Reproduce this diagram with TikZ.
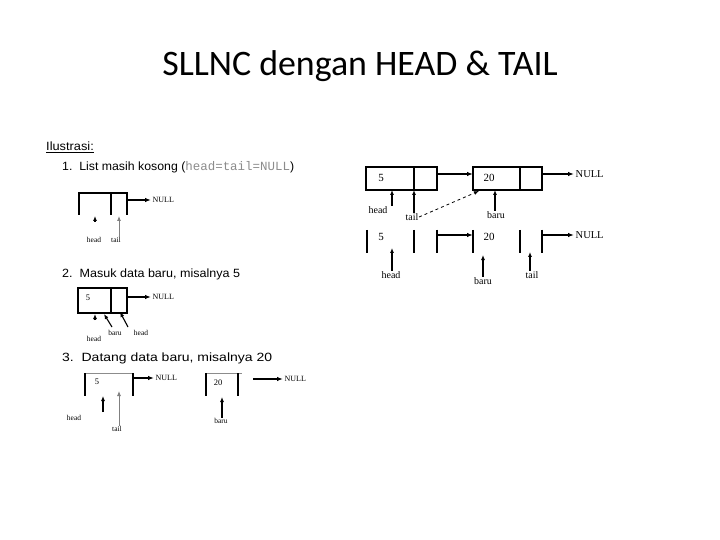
\documentclass[tikz,border=0pt]{standalone}
\usepackage{fontspec}
\setmainfont{Liberation Serif}
\newfontfamily\ttlfont{Carlito}
\newfontfamily\arfont{Liberation Sans}
\newfontfamily\mofont{Liberation Mono}
\usetikzlibrary{arrows.meta}
\begin{document}
\begin{tikzpicture}[x=1bp,y=1bp,
  ln/.style={draw=black,line width=1.1bp},
  lnf/.style={draw=black!45,line width=0.8bp},
  arr/.style={draw=black,line width=1.1bp,-{Latex[length=5bp,width=4bp]}},
  harr/.style={draw=black,line width=1.2bp,line join=miter,-{Latex[length=6bp,width=4.5bp]}},
  arrf/.style={draw=black!50,line width=0.8bp,-{Latex[length=5bp,width=4bp]}},
  item/.style={anchor=west,inner sep=0pt,font=\arfont\fontsize{12}{14}\selectfont},
  lblS/.style={inner sep=0.5bp,font=\fontsize{7.5}{8}\selectfont},
  lblB/.style={inner sep=0.5bp,font=\fontsize{10}{11}\selectfont},
  nulS/.style={anchor=west,inner sep=1.5bp,font=\fontsize{8}{9}\selectfont},
  nulB/.style={anchor=west,inner sep=1.5bp,font=\fontsize{10.5}{12}\selectfont},
  valS/.style={inner sep=0pt,font=\fontsize{8.5}{9}\selectfont},
  valB/.style={inner sep=0pt,font=\fontsize{11}{12}\selectfont}]
\useasboundingbox (0,-540) rectangle (720,0);
\fill[white] (0,-540) rectangle (720,0);

% title
\node[inner sep=0pt] (title) at (360,-66) {\ttlfont\fontsize{36}{40}\selectfont SLLNC dengan HEAD \& TAIL};

% headings
\node[item] (ilus) at (46,-147) {\scalebox{1.07}[1]{\underline{Ilustrasi:}}};
\node[item] (it1) at (62,-167) {\scalebox{1.03}[1]{1.\ \ List masih kosong (}\textcolor{black!45}{\mofont\fontsize{12.5}{13}\selectfont head=tail=NULL}\scalebox{1.03}[1]{)}};
\node[item] (it2) at (62,-274) {\scalebox{1.05}[1]{2.\ \ Masuk data baru, misalnya 5}};
\node[item] (it3) at (62,-358) {\scalebox{1.17}[1]{3.\ \ Datang data baru, misalnya 20}};

% ---------- coordinates of box corners / arrow ends ----------
\coordinate (s1top) at (127,-193);
\coordinate (s1r) at (127,-200);
\coordinate (s2top) at (127,-288);
\coordinate (s2r) at (127,-297);
\coordinate (s3top1) at (133,-373);
\coordinate (s3r1) at (133,-378);
\coordinate (s3r2) at (253,-379);
\coordinate (r1atop) at (437,-167);
\coordinate (r1a) at (437,-174);
\coordinate (r1b) at (473,-174);
\coordinate (r1ctop) at (542,-167);
\coordinate (r1c) at (542,-174);
\coordinate (r2atop) at (437,-230);
\coordinate (r2a) at (437,-235);
\coordinate (r2b) at (473,-235);
\coordinate (r2ctop) at (542,-230);
\coordinate (r2c) at (542,-235);

% ---------- section 1 ----------
\draw[ln] (79,-215) -- (79,-193) -- (127,-193) -- (127,-215);
\draw[ln] (111,-193) -- (111,-215);
\node[nulS] (s1null) at (151,-200) {NULL};
\coordinate (s1hA) at (95,-222);
\coordinate (s1hB) at (95,-216);
\draw[arr] (s1hA) -- (s1hB);
\node[lblS] (s1head) at (94,-240) {head};
\node[lblS] (s1tail) at (116,-240) {tail};
\coordinate (s1tB) at (119,-216);
\draw[arrf] (s1tail.north -| s1tB) -- (s1tB);

% ---------- section 2 ----------
\draw[ln] (78,-288) rectangle (127,-313);
\draw[ln] (111,-288) -- (111,-313);
\node[valS] (s2v) at (88,-298) {5};
\node[nulS] (s2null) at (151,-297) {NULL};
\coordinate (s2hA) at (95,-320);
\coordinate (s2hB) at (95,-314);
\draw[arr] (s2hA) -- (s2hB);
\node[lblS] (s2head) at (94,-339) {head};
\node[lblS] (s2baru) at (115,-333) {baru};
\node[lblS] (s2head2) at (141,-333) {head};
\coordinate (s2bS) at (112,-327);
\coordinate (s2bT) at (104,-314);
\coordinate (s2hS) at (128,-327);
\coordinate (s2hT) at (120,-312);
\draw[arr] (s2bS) -- (s2bT);
\draw[arr] (s2hS) -- (s2hT);

% ---------- section 3 ----------
\draw[lnf] (85,-373) -- (133,-373);
\draw[ln] (85,-373) -- (85,-396);
\draw[ln] (133,-373) -- (133,-396);
\node[valS] (s3v5) at (97,-382) {5};
\node[nulS] (s3null1) at (154,-378) {NULL};
\draw[lnf] (206,-373) -- (242,-373);
\draw[ln] (206,-373) -- (206,-396);
\draw[ln] (238,-373) -- (238,-396);
\node[valS] (s3v20) at (218,-383) {20};
\node[nulS] (s3null2) at (283,-379) {NULL};
\node[lblS] (s3head) at (74,-418) {head};
\node[lblS] (s3tail) at (117,-429) {tail};
\node[lblS] (s3baru) at (221,-421) {baru};
\coordinate (s3hS) at (103,-412);
\coordinate (s3hT) at (103,-396);
\draw[arr] (s3hS) -- (s3hT);
\coordinate (s3tT) at (119,-391);
\draw[arrf] (s3tail.north -| s3tT) -- (s3tT);
\coordinate (s3bT) at (222,-397);
\draw[arr] (s3baru.north -| s3bT) -- (s3bT);

% ---------- right top row ----------
\draw[ln] (366,-167) rectangle (437,-190);
\draw[ln] (414,-167) -- (414,-190);
\draw[ln] (473,-167) rectangle (542,-190);
\draw[ln] (520,-167) -- (520,-190);
\node[valB] (r1v5) at (381,-178) {5};
\node[valB] (r1v20) at (489,-178) {20};
\node[nulB] (r1null) at (574,-174) {NULL};
\node[lblB] (r1head) at (378,-210) {head};
\node[lblB] (r1tail) at (412,-217) {tail};
\node[lblB] (r1baru) at (496,-215) {baru};
\coordinate (r1hT) at (392,-190);
\draw[arr] (r1head.north -| r1hT) -- (r1hT);
\coordinate (r1tT) at (414,-190);
\draw[arr] (r1tail.north -| r1tT) -- (r1tT);
\coordinate (r1bT) at (495,-190);
\draw[arr] (r1baru.north -| r1bT) -- (r1bT);
\coordinate (r1dT) at (479,-191);
\draw[arr,dashed,line width=0.8bp] (r1tail.east) -- (r1dT);

% ---------- right bottom row ----------
\foreach \xx in {367,414,437,473,520,542} {\draw[ln] (\xx,-230) -- (\xx,-253);}
\node[valB] (r2v5) at (381,-237) {5};
\node[valB] (r2v20) at (489,-237) {20};
\node[nulB] (r2null) at (574,-235) {NULL};
\node[lblB] (r2head) at (391,-275) {head};
\node[lblB] (r2baru) at (483,-281) {baru};
\node[lblB] (r2tail) at (532,-275) {tail};
\coordinate (r2hT) at (392,-248);
\draw[arr] (r2head.north -| r2hT) -- (r2hT);
\coordinate (r2bT) at (483,-255);
\draw[arr] (r2baru.north -| r2bT) -- (r2bT);
\coordinate (r2tT) at (530,-252);
\draw[arr] (r2tail.north -| r2tT) -- (r2tT);

% ---------- horizontal connectors, drawn last, each starting on its box edge ----------
\draw[harr] (s1top) -- (s1r) -- (s1null.west);
\draw[harr] (s2top) -- (s2r) -- (s2null.west);
\draw[harr] (s3top1) -- (s3r1) -- (s3null1.west);
\draw[harr] (s3r2) -- (s3null2.west);
\draw[harr] (r1atop) -- (r1a) -- (r1b);
\draw[harr] (r1ctop) -- (r1c) -- (r1null.west);
\draw[harr] (r2atop) -- (r2a) -- (r2b);
\draw[harr] (r2ctop) -- (r2c) -- (r2null.west);
\end{tikzpicture}
\end{document}
